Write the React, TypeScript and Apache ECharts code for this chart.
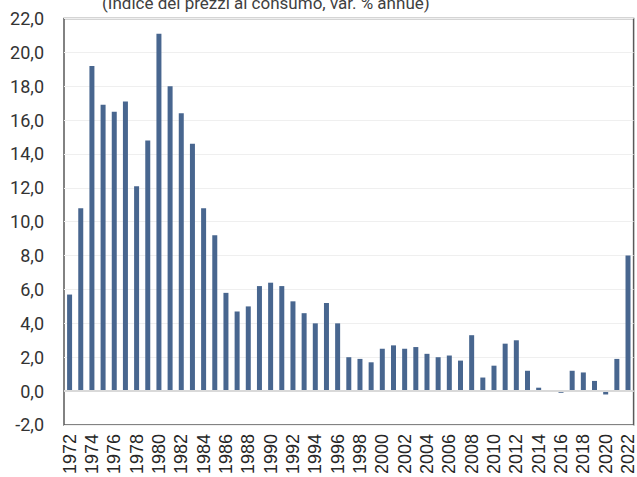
import React, { useEffect, useRef } from "react";
import * as echarts from "echarts";

const years: string[] = [];
for (let y = 1972; y <= 2022; y++) years.push(String(y));

const inflation = [
  5.7, 10.8, 19.2, 16.9, 16.5, 17.1, 12.1, 14.8, 21.1, 18.0,
  16.4, 14.6, 10.8, 9.2, 5.8, 4.7, 5.0, 6.2, 6.4, 6.2,
  5.3, 4.6, 4.0, 5.2, 4.0, 2.0, 1.9, 1.7, 2.5, 2.7,
  2.5, 2.6, 2.2, 2.0, 2.1, 1.8, 3.3, 0.8, 1.5, 2.8,
  3.0, 1.2, 0.2, 0.05, -0.1, 1.2, 1.1, 0.6, -0.2, 1.9,
  8.0,
];

const titleText = "(Indice dei prezzi al consumo, var. % annue)";

export default function App() {
  const ref = useRef<HTMLDivElement>(null);
  useEffect(() => {
    if (!ref.current) return;
    const chart = echarts.init(ref.current, undefined, { renderer: "svg" });
    chart.setOption({
      animation: false,
      graphic: [
        {
          type: "text",
          left: 102,
          top: -6,
          style: {
            text: titleText,
            font: "17px Roboto",
            fill: "#404040",
          },
        },
      ],
      grid: {
        left: 64,
        right: 2,
        top: 18.5,
        bottom: 49.5,
        show: true,
        borderColor: "#595959",
        borderWidth: 1.5,
        backgroundColor: "transparent",
      },
      xAxis: {
        type: "category",
        data: years,
        axisLine: { show: false, onZero: false },
        axisTick: { show: false },
        axisLabel: {
          interval: 1,
          rotate: 90,
          margin: 9,
          fontFamily: "Liberation Sans",
          fontSize: 18,
          color: "#262626",
        },
      },
      yAxis: {
        type: "value",
        min: -2,
        max: 22,
        interval: 2,
        axisLine: { show: false },
        axisTick: { show: false },
        splitLine: { lineStyle: { color: "#efefef", width: 1 } },
        axisLabel: {
          margin: 20,
          fontFamily: "Roboto",
          fontSize: 18,
          color: "#333333",
          formatter: (v: number) => v.toFixed(1).replace(".", ","),
        },
      },
      series: [
        {
          type: "bar",
          data: inflation,
          barWidth: 5,
          itemStyle: { color: "#48668F" },
          markLine: {
            silent: true,
            symbol: "none",
            label: { show: false },
            lineStyle: { color: "#d9d9d9", width: 2, type: "solid" },
            data: [{ yAxis: 0 }],
          },
        },
      ],
    });
    return () => chart.dispose();
  }, []);
  return <div ref={ref} style={{ width: 637, height: 477, position: "absolute", left: 0, top: 0 }} />;
}
